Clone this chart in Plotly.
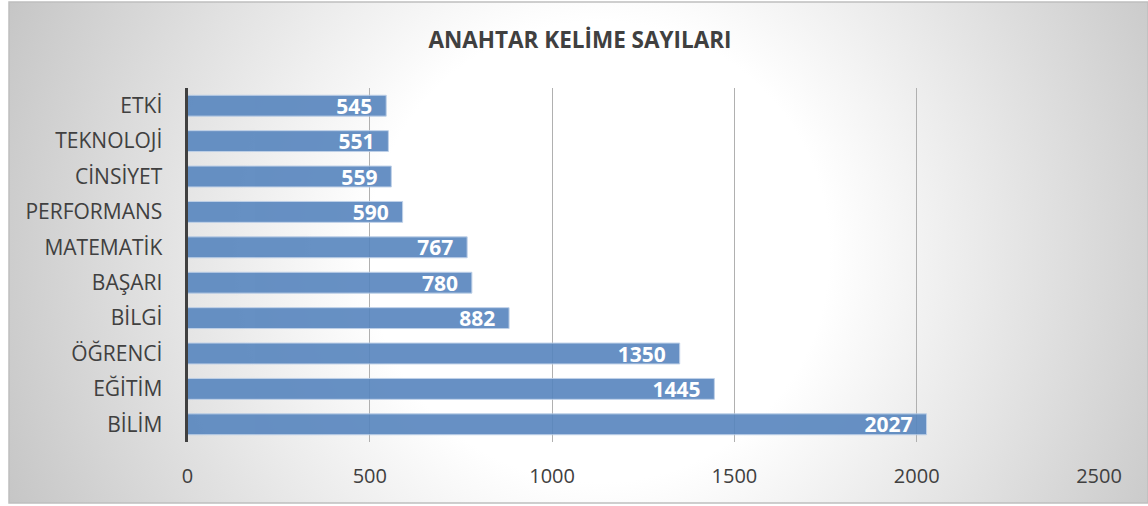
import base64
import plotly.graph_objects as go

categories = ["ETKİ", "TEKNOLOJİ", "CİNSİYET", "PERFORMANS", "MATEMATİK",
              "BAŞARI", "BİLGİ", "ÖĞRENCİ", "EĞİTİM", "BİLİM"]
values = [545, 551, 559, 590, 767, 780, 882, 1350, 1445, 2027]
x_ticks = [0, 500, 1000, 1500, 2000, 2500]
title_text = "ANAHTAR KELİME SAYILARI"

W, H = 1148, 506
FONT = "Open Sans"

# radial gradient background for the chart area
svg = (
    '<svg xmlns="http://www.w3.org/2000/svg" width="1139" height="501" viewBox="0 0 1139 501" preserveAspectRatio="none">'
    '<defs><radialGradient id="g" gradientUnits="userSpaceOnUse" cx="590" cy="250" r="640">'
    '<stop offset="0" stop-color="#ffffff"/>'
    '<stop offset="0.36" stop-color="#ffffff"/>'
    '<stop offset="1" stop-color="#c6c6c6"/>'
    '</radialGradient></defs>'
    '<rect x="0" y="0" width="1139" height="501" fill="url(#g)"/></svg>'
)
src = "data:image/svg+xml;base64," + base64.b64encode(svg.encode()).decode()

fig = go.Figure()
fig.add_trace(go.Bar(
    x=values, y=categories, orientation="h",
    marker=dict(color="#5785be", opacity=0.9,
                line=dict(color="#b8cce6", width=1)),
    text=[str(v) + "\u00a0\u00a0" for v in values],
    textposition="inside", insidetextanchor="end",
    textfont=dict(family=FONT, size=21, color="white", weight="bold"),
    cliponaxis=False,
    hoverinfo="skip",
))

x0, x1 = 9 / W, 1.0
y_top, y_bot = 1 - 2 / H, 1 - 503 / H
fig.add_layout_image(dict(
    source=src, xref="paper", yref="paper",
    x=x0, y=y_top, sizex=x1 - x0, sizey=y_top - y_bot,
    xanchor="left", yanchor="top", sizing="stretch", layer="below",
))
fig.add_shape(type="rect", xref="paper", yref="paper",
              x0=x0, x1=1.0, y0=y_bot, y1=y_top,
              line=dict(color="#bfbfbf", width=1.5), layer="below")

fig.update_layout(
    width=W, height=H,
    margin=dict(l=0, r=0, t=0, b=0),
    paper_bgcolor="white", plot_bgcolor="rgba(0,0,0,0)",
    bargap=0.41,
    showlegend=False,
    uniformtext=dict(minsize=21, mode="show"),
    title=dict(text=title_text, x=580 / W, xanchor="center",
               y=1 - 40 / H, yanchor="middle",
               font=dict(family=FONT, size=22.5, color="#404040", weight="bold")),
    xaxis=dict(domain=[187.5 / W, 1099 / W], range=[0, 2500],
               tickvals=x_ticks, ticktext=[str(t) for t in x_ticks],
               showgrid=True, gridcolor="#b0b0b0", gridwidth=1,
               zeroline=False, showline=False,
               ticks="outside", ticklen=16, tickcolor="rgba(0,0,0,0)",
               tickfont=dict(family=FONT, size=20, color="#404040"),
               automargin=False, fixedrange=True),
    yaxis=dict(domain=[1 - 442 / H, 1 - 88 / H],
               categoryorder="array", categoryarray=categories,
               autorange="reversed",
               showgrid=False, zeroline=False,
               showline=True, linecolor="#404040", linewidth=3,
               ticks="outside", ticklen=18, tickcolor="rgba(0,0,0,0)",
               tickfont=dict(family=FONT, size=21, color="#404040"),
               automargin=False, fixedrange=True),
)

fig.write_html("out.html", config={"displayModeBar": False},
               post_script="document.body.style.margin='0';")
